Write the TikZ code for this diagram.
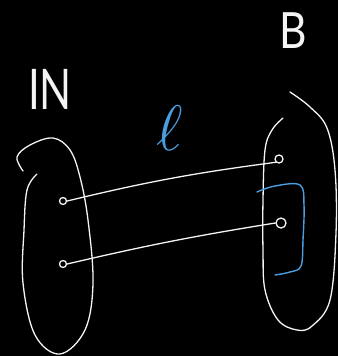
\documentclass[tikz,border=0pt]{standalone}
\usepackage{fontspec}
\setmainfont{Lato}
\usepackage{xcolor}
\usetikzlibrary{positioning}
\definecolor{chalk}{HTML}{F4F4F4}
\definecolor{pen}{HTML}{4A9EE0}
\tikzset{
  stroke/.style={draw=chalk, line width=1.3pt, line cap=round, line join=round},
  elem/.style={circle, draw=chalk, line width=1.3pt, inner sep=0pt, minimum size=8pt},
  setname/.style={text=chalk, inner sep=0pt, font=\fontsize{50}{50}\selectfont},
}
\begin{document}
\begin{tikzpicture}[x=1pt, y=-1pt]

\fill[black] (0,0) rectangle (338,356);
\useasboundingbox (0,0) rectangle (338,356);

% set names and the map
\node[setname, font=\fontsize{56}{56}\selectfont, xscale=0.75] (in) at (50,89) {IN};
\node[setname, xscale=0.85] (b) at (293,31) {B};
\node[text=pen, inner sep=0pt, font=\fontsize{20}{20}\selectfont] (f) at (170,128)
  {\scalebox{3.1}{$\ell$}};

% left set
\draw[stroke] plot[smooth, tension=0.6] coordinates {
  (23,171) (17,157) (30,145) (53,138) (70,150) (80,177) (88,220)
  (93,283) (85,330) (60,354) (35,335) (23,283) (24,230) (27,190) (37,174)};

% right set
\draw[stroke] plot[smooth, tension=0.6] coordinates {
  (290,92) (310,107) (327,128) (335,170) (336,233) (330,300) (312,326)
  (297,330) (278,320) (265,290) (263,250) (263,200) (265,150) (272,130) (283,118)};

% elements
\node[elem, minimum size=7pt] (a1) at (63,201) {};
\node[elem, minimum size=7pt] (a2) at (63,264) {};
\node[elem] (b1) at (279,159) {};
\node[elem, minimum size=10pt] (b2) at (281,223) {};

\draw[stroke] (a1.east) to[bend left=3] (b1.south west);
\draw[stroke] (b2.west) to[bend right=2] (a2.east);

% bracket
\draw[draw=pen, line width=1.4pt, line cap=round] plot[smooth, tension=0.6] coordinates {
  (257,192) (275,186) (300,185) (304,205) (303,240) (301,266) (290,272) (275,275)};

\end{tikzpicture}
\end{document}
